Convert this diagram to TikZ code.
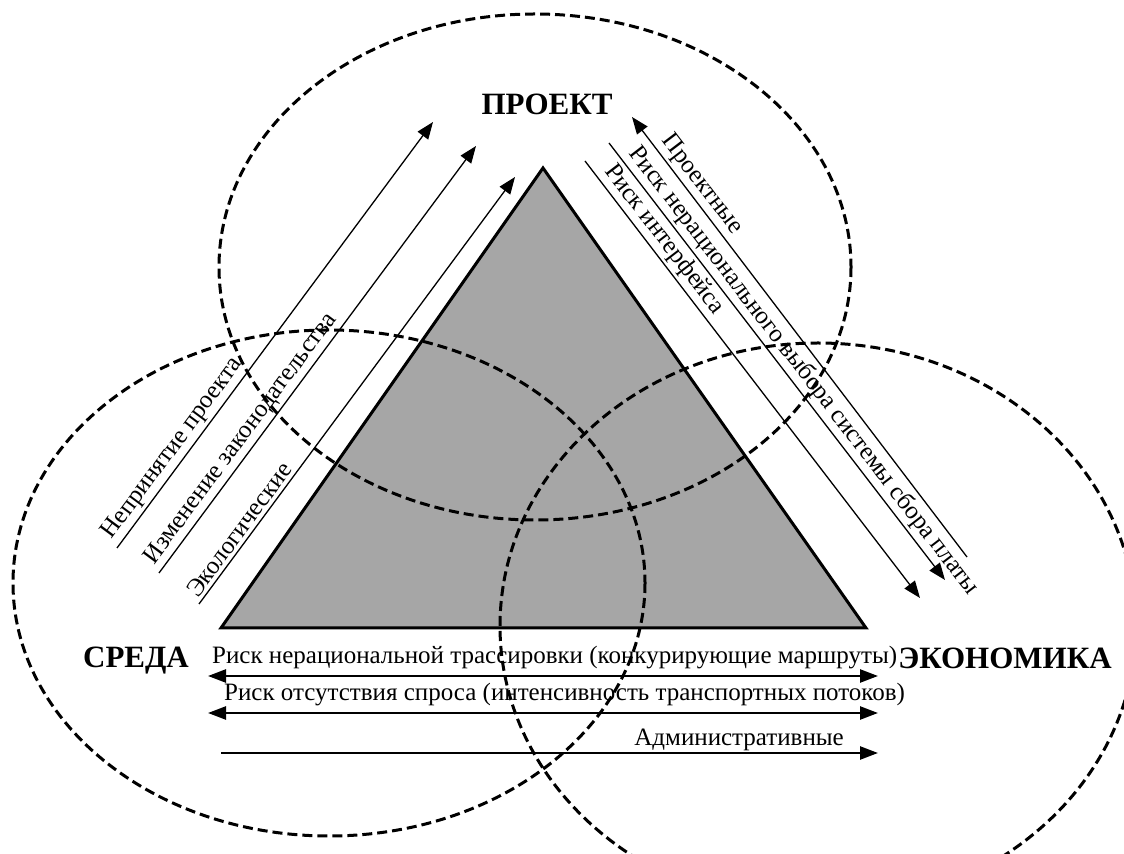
\documentclass[tikz,border=0pt]{standalone}
\usepackage{fontspec}
\setmainfont{Liberation Serif}
\usetikzlibrary{arrows.meta}

\begin{document}
\begin{tikzpicture}[x=0.5pt,y=-0.5pt,
    zone/.style={draw,line width=1.5pt,dash pattern=on 5pt off 2.5pt},
    risk/.style={line width=0.65pt,-{Triangle[length=8.5pt,width=6.5pt]}},
    riskback/.style={line width=0.65pt,{Triangle[length=8.5pt,width=6.5pt]}-},
    riskplain/.style={line width=0.65pt},
    flow/.style={line width=1.2pt,-{Triangle[length=9pt,width=6.5pt]}},
    bothflow/.style={line width=1.2pt,{Triangle[length=9pt,width=6.5pt]}-{Triangle[length=9pt,width=6.5pt]}},
    lbl/.style={font=\fontsize{12.5}{15}\selectfont,inner sep=1.5pt},
    side/.style={font=\bfseries\fontsize{15.5}{18}\selectfont,inner sep=0pt}]

  \useasboundingbox (0,0) rectangle (1124,854);
  \clip (0,0) rectangle (1124,854);

  % triangle
  \coordinate (apex) at (543,168);
  \coordinate (baseR) at (866,628);
  \coordinate (baseL) at (221,628);
  \filldraw[fill=black!35,line width=1.5pt,line join=miter] (apex) -- (baseR) -- (baseL) -- cycle;

  % three zones
  \draw[zone] (535,267) ellipse [x radius=316, y radius=253];
  \draw[zone] (329,583) ellipse [x radius=316, y radius=253];
  \draw[zone] (818,626) ellipse [x radius=318, y radius=283];

  % zone names
  \node[side,anchor=base] (proekt) at (547,115) {ПРОЕКТ};
  \node[side,anchor=base] (sreda) at (136,668) {СРЕДА};
  \node[side,anchor=base] (econ) at (1005,669) {ЭКОНОМИКА};

  % left side: towards the project
  \coordinate (n1) at (117,548);  \coordinate (n1t) at (433,122);
  \coordinate (n2) at (159,573);  \coordinate (n2t) at (476,146);
  \coordinate (n3) at (199,604);  \coordinate (n3t) at (515,177);
  \draw[risk] (n1) -- (n1t) node[lbl,pos=0,sloped,anchor=south west] {Непринятие проекта};
  \draw[risk] (n2) -- (n2t) node[lbl,pos=0,sloped,anchor=south west] {Изменение законодательства};
  \draw[risk] (n3) -- (n3t) node[lbl,pos=0,sloped,anchor=south west] {Экологические};

  % right side
  \coordinate (p1t) at (632,117); \coordinate (p1) at (967,557);
  \coordinate (p2) at (609,143);  \coordinate (p2t) at (945,580);
  \coordinate (p3) at (585,161);  \coordinate (p3t) at (920,598);
  \draw[riskback] (p1t) -- (p1) node[lbl,pos=0.06,sloped,anchor=south west] {Проектные};
  \draw[risk] (p2) -- (p2t) node[lbl,pos=0.03,sloped,anchor=south west] {Риск нерационального выбора системы сбора платы};
  \draw[risk] (p3) -- (p3t) node[lbl,pos=0.03,sloped,anchor=south west] {Риск интерфейса};

  % bottom
  \coordinate (h1l) at (208,676); \coordinate (h1r) at (878,676);
  \coordinate (h2l) at (208,713); \coordinate (h2r) at (878,713);
  \coordinate (h3l) at (221,753); \coordinate (h3r) at (878,753);
  \draw[bothflow] (h1l) -- (h1r) node[lbl,pos=0,anchor=base west,yshift=6pt] {Риск нерациональной трассировки (конкурирующие маршруты)};
  \draw[bothflow] (h2l) -- (h2r) node[lbl,pos=0,anchor=base west,xshift=6pt,yshift=6.3pt] {Риск отсутствия спроса (интенсивность транспортных потоков)};
  \draw[flow] (h3l) -- (h3r) node[lbl,pos=1,anchor=base east,xshift=-15pt,yshift=3.5pt] {Административные};
\end{tikzpicture}
\end{document}
